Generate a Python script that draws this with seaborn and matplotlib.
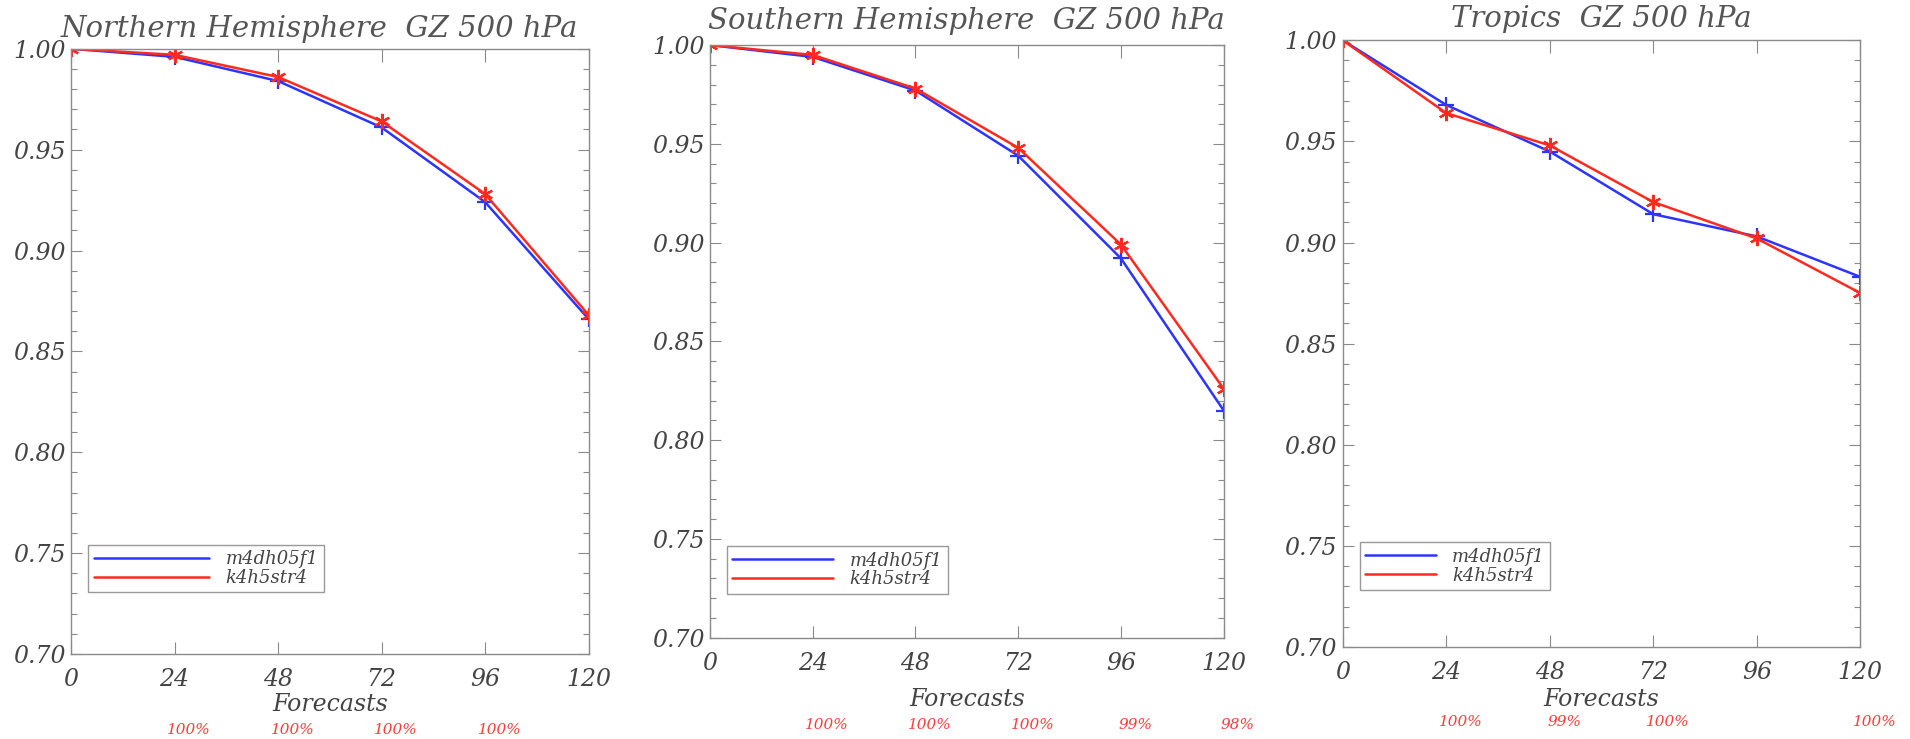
import numpy as np
import pandas as pd
import matplotlib.pyplot as plt
import matplotlib.transforms as mtransforms
from matplotlib.lines import Line2D
from matplotlib.ticker import MultipleLocator
import seaborn as sns

sns.set_style('ticks')
plt.rcParams['font.family'] = ['DejaVu Serif']

# forecast hours and the two experiments
hours = [0, 24, 48, 72, 96, 120]
models = ['m4dh05f1', 'k4h5str4']
colors = {'m4dh05f1': '#2b35ff', 'k4h5str4': '#ff2a1f'}

# anomaly correlation, GZ 500 hPa
nh_m4 = [1.000, 0.996, 0.984, 0.961, 0.924, 0.866]
nh_k4 = [1.000, 0.997, 0.986, 0.964, 0.928, 0.868]
sh_m4 = [1.000, 0.994, 0.977, 0.944, 0.892, 0.815]
sh_k4 = [1.000, 0.995, 0.978, 0.948, 0.899, 0.826]
tr_m4 = [1.000, 0.968, 0.945, 0.914, 0.903, 0.883]
tr_k4 = [1.000, 0.964, 0.948, 0.920, 0.902, 0.875]

titles = ['Northern Hemisphere  GZ 500 hPa',
          'Southern Hemisphere  GZ 500 hPa',
          'Tropics  GZ 500 hPa']

# sample percentages written under the x axis
nh_pct_hours = [24, 48, 72, 96]
nh_pct = ['100%', '100%', '100%', '100%']
sh_pct_hours = [24, 48, 72, 96, 120]
sh_pct = ['100%', '100%', '100%', '99%', '98%']
tr_pct_hours = [24, 48, 72, 120]
tr_pct = ['100%', '99%', '100%', '100%']

panels = [
    (nh_m4, nh_k4, nh_pct_hours, nh_pct),
    (sh_m4, sh_k4, sh_pct_hours, sh_pct),
    (tr_m4, tr_k4, tr_pct_hours, tr_pct),
]

# layout (figure fractions)
rects = [[0.0372, 0.115, 0.271, 0.819],
         [0.3717, 0.137, 0.269, 0.802],
         [0.703, 0.1245, 0.271, 0.821]]
title_x = [0.48, 0.5, 0.5]
title_y = [1.033, 1.04, 1.035]
pct_y = [0.012, 0.019, 0.023]
xlab_y = [0.047, 0.053, 0.053]
leg_anchor = [(0.033, 0.102), (0.033, 0.074), (0.033, 0.094)]
leg_handle = [6.4, 5.6, 3.9]

grey = '#8a8a8a'
txt = '#444444'

fig = plt.figure(figsize=(19.1, 7.39), dpi=100)

for i, (m4, k4, ph, pl) in enumerate(panels):
    ax = fig.add_axes(rects[i])
    df = pd.DataFrame({
        'hour': hours * 2,
        'acc': m4 + k4,
        'model': [models[0]] * len(hours) + [models[1]] * len(hours),
    })
    sns.lineplot(data=df, x='hour', y='acc', hue='model', style='model',
                 hue_order=models, style_order=models, palette=colors,
                 markers={'m4dh05f1': '+', 'k4h5str4': (6, 2, 0)},
                 dashes=False, markersize=11, markeredgewidth=1.6,
                 linewidth=1.8, legend=False, ax=ax)
    for ln in ax.lines:
        ln.set_markeredgecolor(ln.get_color())

    ax.set_xlim(0, 120)
    ax.set_ylim(0.70, 1.00)
    ax.set_xticks(hours)
    ax.set_yticks(np.arange(0.70, 1.001, 0.05))
    ax.yaxis.set_minor_locator(MultipleLocator(0.01))
    ax.set_yticklabels(['%.2f' % v for v in np.arange(0.70, 1.001, 0.05)])
    ax.tick_params(axis='x', which='major', direction='in', top=True,
                   length=9, width=0.8, color=grey, labelsize=17,
                   labelcolor=txt, pad=10)
    ax.tick_params(axis='y', which='major', direction='in', right=True,
                   length=8, width=0.8, color=grey, labelsize=17,
                   labelcolor=txt, pad=4)
    ax.tick_params(axis='y', which='minor', direction='in', right=True,
                   length=4, width=0.8, color=grey)
    for lab in ax.get_xticklabels() + ax.get_yticklabels():
        lab.set_fontstyle('italic')
    for sp in ax.spines.values():
        sp.set_visible(True)
        sp.set_color(grey)
        sp.set_linewidth(1.0)
    ax.set_xlabel('')
    ax.set_ylabel('')

    ax.text(title_x[i], title_y[i], titles[i], transform=ax.transAxes,
            ha='center', va='center', fontsize=21, style='italic',
            color='#555555')

    tr = mtransforms.blended_transform_factory(ax.transAxes, fig.transFigure)
    ax.text(0.5, xlab_y[i], 'Forecasts', transform=tr, ha='center',
            va='center', fontsize=17, style='italic', color=txt)

    trp = mtransforms.blended_transform_factory(ax.transData, fig.transFigure)
    for h, s in zip(ph, pl):
        ax.text(h + 3.3, pct_y[i], s, transform=trp, ha='center',
                va='center', fontsize=11, style='italic', color='#ff3b3b')

    handles = [Line2D([], [], color=colors[m], lw=1.8) for m in models]
    leg = ax.legend(handles, models, loc='lower left',
                    bbox_to_anchor=leg_anchor[i], borderaxespad=0,
                    fancybox=False, framealpha=1, edgecolor='#999999',
                    handlelength=leg_handle[i],
                    prop={'style': 'italic', 'size': 13}, labelspacing=0.05,
                    borderpad=0.3, handletextpad=0.9)
    leg.get_frame().set_linewidth(1.0)
    for t in leg.get_texts():
        t.set_color(txt)

fig.savefig('out.png', dpi=100)
